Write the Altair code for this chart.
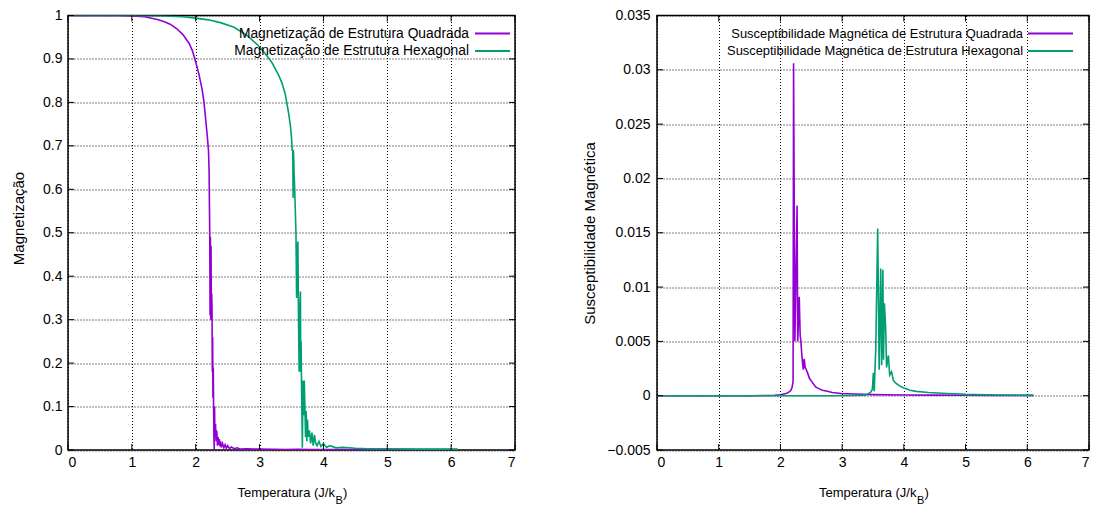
import altair as alt
import pandas as pd

# ---------------- data ----------------
x_ticks = [0, 1, 2, 3, 4, 5, 6, 7]
mag_ticks = [0, 0.1, 0.2, 0.3, 0.4, 0.5, 0.6, 0.7, 0.8, 0.9, 1]
chi_ticks = [-0.005, 0, 0.005, 0.01, 0.015, 0.02, 0.025, 0.03, 0.035]

# Magnetization, square lattice
sq_T = [0.00, 0.20, 0.40, 0.60, 0.80, 1.00, 1.20, 1.40, 1.50, 1.60,
        1.70, 1.80, 1.90, 1.95, 2.00, 2.05, 2.10, 2.13, 2.16, 2.18,
        2.20, 2.21, 2.215, 2.22, 2.225, 2.23, 2.235, 2.24, 2.245, 2.25,
        2.255, 2.26, 2.265, 2.27, 2.275, 2.28, 2.285, 2.29, 2.295, 2.30,
        2.31, 2.32, 2.33, 2.34, 2.35, 2.36, 2.37, 2.38, 2.39, 2.40,
        2.42, 2.44, 2.46, 2.48, 2.50, 2.53, 2.56, 2.60, 2.65, 2.70,
        2.80, 2.90, 3.00, 3.20, 3.40, 3.60, 3.80, 4.00, 4.50, 5.00,
        5.50, 6.10]
sq_M = [1.000, 1.000, 1.000, 1.000, 1.000, 0.999, 0.997, 0.991, 0.986, 0.980,
        0.970, 0.956, 0.935, 0.918, 0.893, 0.865, 0.830, 0.800, 0.755, 0.725,
        0.690, 0.640, 0.560, 0.495, 0.310, 0.490, 0.300, 0.470, 0.300, 0.360,
        0.330, 0.180, 0.260, 0.120, 0.190, 0.100, 0.030, 0.000, 0.100, 0.040,
        0.060, 0.020, 0.045, 0.010, 0.030, 0.012, 0.025, 0.008, 0.020, 0.006,
        0.015, 0.005, 0.012, 0.004, 0.010, 0.003, 0.007, 0.003, 0.005, 0.002,
        0.003, 0.002, 0.002, 0.0015, 0.001, 0.0015, 0.001, 0.001, 0.001, 0.001,
        0.001, 0.001]

# Magnetization, hexagonal lattice
hx_T = [0.00, 0.50, 1.00, 1.50, 1.80, 2.00, 2.20, 2.40, 2.60, 2.80,
        3.00, 3.10, 3.20, 3.30, 3.35, 3.40, 3.45, 3.48, 3.50, 3.51,
        3.52, 3.525, 3.53, 3.535, 3.54, 3.55, 3.56, 3.57, 3.58, 3.59,
        3.60, 3.61, 3.62, 3.63, 3.64, 3.645, 3.65, 3.66, 3.67, 3.68,
        3.69, 3.70, 3.71, 3.72, 3.73, 3.74, 3.75, 3.76, 3.78, 3.80,
        3.82, 3.84, 3.86, 3.88, 3.90, 3.93, 3.96, 4.00, 4.05, 4.10,
        4.20, 4.30, 4.50, 4.70, 5.00, 5.50, 6.10]
hx_M = [1.000, 1.000, 1.000, 0.999, 0.997, 0.994, 0.990, 0.983, 0.973, 0.955,
        0.928, 0.910, 0.890, 0.862, 0.845, 0.820, 0.780, 0.750, 0.720, 0.690,
        0.690, 0.580, 0.690, 0.670, 0.640, 0.600, 0.550, 0.500, 0.350, 0.460,
        0.480, 0.300, 0.180, 0.320, 0.365, 0.180, 0.250, 0.120, 0.005, 0.160,
        0.080, 0.160, 0.100, 0.030, 0.090, 0.020, 0.070, 0.030, 0.045, 0.015,
        0.040, 0.010, 0.035, 0.015, 0.010, 0.020, 0.008, 0.015, 0.006, 0.010,
        0.005, 0.006, 0.004, 0.003, 0.003, 0.002, 0.002]

# Susceptibility, square lattice
sq_cT = [0.00, 1.00, 1.50, 1.80, 1.90, 2.00, 2.09, 2.13, 2.17, 2.19,
         2.205, 2.213, 2.234, 2.255, 2.27, 2.28, 2.29, 2.305, 2.32, 2.33,
         2.35, 2.37, 2.385, 2.40, 2.41, 2.44, 2.47, 2.52, 2.57, 2.62,
         2.68, 2.76, 2.84, 2.98, 3.20, 3.50, 4.00, 4.50, 5.00, 5.50,
         6.10]
sq_chi = [0.0, 0.0, 0.0, 0.00002, 0.00004, 0.00008, 0.0002, 0.0003, 0.0005, 0.0008,
          0.0013, 0.0306, 0.005, 0.0120, 0.0175, 0.005, 0.0065, 0.0091, 0.0055, 0.0051,
          0.0035, 0.0024, 0.0034, 0.0026, 0.0025, 0.0021, 0.0016, 0.0012, 0.0008, 0.00065,
          0.0005, 0.0004, 0.0003, 0.0002, 0.00015, 0.0001, 0.00007, 0.00005, 0.00004, 0.00003,
          0.00003]

# Susceptibility, hexagonal lattice
hx_cT = [0.00, 1.00, 2.00, 2.80, 3.17, 3.38, 3.46, 3.49, 3.506, 3.52,
         3.545, 3.576, 3.60, 3.625, 3.64, 3.66, 3.67, 3.685, 3.705, 3.72,
         3.75, 3.77, 3.80, 3.83, 3.86, 3.93, 4.00, 4.10, 4.20, 4.40,
         4.70, 5.00, 5.50, 6.10]
hx_chi = [0.0, 0.0, 0.0, 0.0, 0.00002, 0.00005, 0.0003, 0.0006, 0.0021, 0.0004,
          0.0044, 0.0154, 0.0024, 0.0117, 0.0028, 0.0116, 0.0033, 0.0085, 0.0062, 0.0026,
          0.0037, 0.0019, 0.0022, 0.0014, 0.0012, 0.0009, 0.0007, 0.0005, 0.0004, 0.0003,
          0.0002, 0.00012, 0.00006, 0.00003]

mag_labels = ["Magnetização de Estrutura Quadrada", "Magnetização de Estrutura Hexagonal"]
chi_labels = ["Susceptibilidade Magnética de Estrutura Quadrada",
              "Susceptibilidade Magnética de Estrutura Hexagonal"]
mag_title = "Magnetização"
chi_title = "Susceptibilidade Magnética"
xtitle_main = ["Temperatura (J/k"]
xtitle_sub = ["B"]
xtitle_close = [")"]

# ---------------- styling ----------------
FONT = "Liberation Sans"
PURPLE = "#9400d3"
GREEN = "#009e73"
H = 434.5


def panel(series, ydom, yticks, ytitle, title_x, title_y, labels, W,
          leg_text_x, leg_s0, leg_s1, leg_fs, ylab_pad):
    xs = alt.Scale(domain=[0, 7], nice=False, zero=False)
    ys = alt.Scale(domain=ydom, nice=False, zero=False)
    xaxis = alt.Axis(values=x_ticks, title=None, grid=True, ticks=False, domain=False,
                     labelPadding=5, format="d", labelFontSize=14)
    yaxis = alt.Axis(values=yticks, grid=True, ticks=False, domain=False, format="~g",
                     labelPadding=ylab_pad, labelFontSize=14,
                     title=ytitle, titleX=title_x, titleY=title_y, titleAngle=-90,
                     titleBaseline="middle", titleAlign="center", titleFont=FONT,
                     titleFontSize=15, titleFontWeight="normal", titleColor="black")
    layers = []
    for T, V, col in series:
        df = pd.DataFrame({"T": T, "v": V})
        layers.append(alt.Chart(df).mark_line(color=col, strokeWidth=1.6, clip=True)
                      .encode(x=alt.X("T:Q", scale=xs, axis=xaxis),
                              y=alt.Y("v:Q", scale=ys, axis=yaxis)))
    # inward tick marks on all four sides (gnuplot style)
    xt = pd.DataFrame({"T": x_ticks})
    yt = pd.DataFrame({"v": yticks})
    for y0, y1 in [(0, 6), (H, H - 6)]:
        layers.append(alt.Chart(xt).mark_rule(color="black", strokeWidth=1).encode(
            x=alt.X("T:Q", scale=xs, axis=xaxis), y=alt.value(y0), y2=alt.value(y1)))
    for x0, x1 in [(0, 6), (W, W - 6)]:
        layers.append(alt.Chart(yt).mark_rule(color="black", strokeWidth=1).encode(
            y=alt.Y("v:Q", scale=ys, axis=yaxis), x=alt.value(x0), x2=alt.value(x1)))
    # key (text then line sample, like gnuplot)
    for i, (lab, (_, _, col)) in enumerate(zip(labels, series)):
        ly = 18 + 17.5 * i
        ldf = pd.DataFrame({"label": [lab]})
        layers.append(alt.Chart(ldf).mark_text(
            align="right", baseline="middle", font=FONT, fontSize=leg_fs, color="black")
            .encode(x=alt.value(leg_text_x), y=alt.value(ly), text="label:N"))
        layers.append(alt.Chart(ldf).mark_rule(color=col, strokeWidth=2).encode(
            x=alt.value(leg_s0), x2=alt.value(leg_s1), y=alt.value(ly)))
    # x title with subscript B
    xend = W / 2 + 43.5
    layers.append(alt.Chart(pd.DataFrame({"t": xtitle_main})).mark_text(
        align="right", baseline="alphabetic", font=FONT, fontSize=13, color="black")
        .encode(x=alt.value(xend), y=alt.value(H + 47), text="t:N"))
    layers.append(alt.Chart(pd.DataFrame({"t": xtitle_sub})).mark_text(
        align="left", baseline="alphabetic", font=FONT, fontSize=11, color="black")
        .encode(x=alt.value(xend + 0.5), y=alt.value(H + 54), text="t:N"))
    layers.append(alt.Chart(pd.DataFrame({"t": xtitle_close})).mark_text(
        align="left", baseline="alphabetic", font=FONT, fontSize=13, color="black")
        .encode(x=alt.value(xend + 8), y=alt.value(H + 47), text="t:N"))
    return alt.layer(*layers).properties(width=W, height=H)


left = panel([(sq_T, sq_M, PURPLE), (hx_T, hx_M, GREEN)], [0, 1], mag_ticks,
             mag_title, -50, 202.5, mag_labels, 447, 401, 407, 442, 13.8, 6)
right = panel([(sq_cT, sq_chi, PURPLE), (hx_cT, hx_chi, GREEN)], [-0.005, 0.035], chi_ticks,
              chi_title, -67.3, 217.5, chi_labels, 432, 366, 371, 416, 12.9, 7)

chart = (alt.hconcat(left, right, spacing=64)
         .configure(padding={"left": 10, "top": 7.5, "right": 0, "bottom": 0},
                    background="white")
         .configure_view(stroke="black", strokeWidth=1.5)
         .configure_axis(labelFont=FONT, labelColor="black", gridColor="black",
                         gridDash=[1, 2], gridOpacity=1, gridWidth=1))

chart.save("out.html", embed_options={"renderer": "svg", "actions": False})
